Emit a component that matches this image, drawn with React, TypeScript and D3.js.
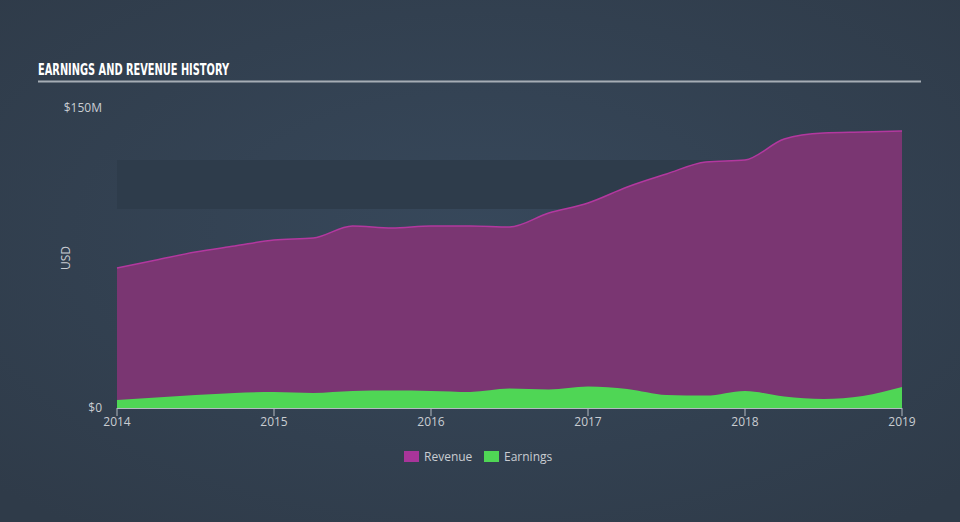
import React, { useEffect } from "react";
import * as d3 from "d3";

const dates: number[] = [
  2014.0, 2014.25, 2014.5, 2014.75, 2015.0, 2015.25, 2015.5, 2015.75, 2016.0, 2016.25, 2016.5,
  2016.75, 2017.0, 2017.25, 2017.5, 2017.75, 2018.0, 2018.25, 2018.5, 2018.75, 2019.0,
];
const revenue: number[] = [
  70, 74, 78, 81, 84, 85, 91, 90, 91, 91, 90.5, 97.5, 102.5, 110.5, 117, 123, 124, 134.5, 137.5, 138, 138.5,
];
const earnings: number[] = [
  4, 5.2, 6.5, 7.5, 8, 7.5, 8.5, 8.7, 8.5, 8, 9.7, 9.2, 10.7, 9.5, 6.5, 6.2, 8.5, 5.7, 4.5, 6, 10.5,
];
const xTicks: number[] = [2014, 2015, 2016, 2017, 2018, 2019];
const yTicks: number[] = [0, 150];
const yTickLabels: string[] = ["$0", "$150M"];
const bandRange: number[] = [99.5, 124];
const legendItems: string[] = ["Revenue", "Earnings"];

const W = 960;
const H = 522;
const X0 = 117;
const X1 = 902;
const Y0 = 408;
const Y1 = 108;

const REV_FILL = "#7a3672";
const REV_LINE = "#b3389f";
const EARN_FILL = "#4fd655";
const TEXT = "#c9cdd2";
const FONT = "'Open Sans', 'DejaVu Sans', sans-serif";

export default function App() {
  useEffect(() => {
    document.body.style.margin = "0";
  }, []);

  const x = d3.scaleLinear().domain([2014, 2019]).range([X0, X1]);
  const y = d3.scaleLinear().domain([0, 150]).range([Y0, Y1]);

  const revData = dates.map((d, i) => ({ d, v: revenue[i] }));
  const earnData = dates.map((d, i) => ({ d, v: earnings[i] }));

  const revArea = d3
    .area<{ d: number; v: number }>()
    .x((p) => x(p.d))
    .y0(y(0))
    .y1((p) => y(p.v))
    .curve(d3.curveMonotoneX);
  const revLine = d3
    .line<{ d: number; v: number }>()
    .x((p) => x(p.d))
    .y((p) => y(p.v))
    .curve(d3.curveMonotoneX);
  const earnArea = d3
    .area<{ d: number; v: number }>()
    .x((p) => x(p.d))
    .y0(y(0))
    .y1((p) => y(p.v))
    .curve(d3.curveMonotoneX);

  return (
    <div style={{ position: "absolute", left: 0, top: 0 }}>
      <svg width={W} height={H} style={{ display: "block" }} fontFamily={FONT}>
        <defs>
          <radialGradient id="bg" cx="50%" cy="45%" r="70%">
            <stop offset="0%" stopColor="#37485b" />
            <stop offset="100%" stopColor="#2f3b49" />
          </radialGradient>
        </defs>
        <rect x={0} y={0} width={W} height={H} fill="url(#bg)" />

        <text
          x={38}
          y={75}
          fill="#ffffff"
          fontFamily="'DejaVu Sans Condensed', 'DejaVu Sans', sans-serif"
          fontWeight="bold"
          fontSize={16}
          textLength={191}
          lengthAdjust="spacingAndGlyphs"
        >
          EARNINGS AND REVENUE HISTORY
        </text>
        <line x1={38} x2={921} y1={81.5} y2={81.5} stroke="#a6adb5" strokeWidth={2} />

        <rect
          x={X0}
          y={y(bandRange[1])}
          width={X1 - X0}
          height={y(bandRange[0]) - y(bandRange[1])}
          fill="#2e3c4b"
        />

        <path d={revArea(revData) || ""} fill={REV_FILL} />
        <path d={revLine(revData) || ""} fill="none" stroke={REV_LINE} strokeWidth={1.5} />
        <path d={earnArea(earnData) || ""} fill={EARN_FILL} />

        <line x1={X0} x2={X1} y1={Y0 + 0.5} y2={Y0 + 0.5} stroke="#b4bac1" strokeWidth={1} />
        {xTicks.map((t) => (
          <g key={t}>
            <line x1={x(t)} x2={x(t)} y1={Y0} y2={Y0 + 8} stroke="#b4bac1" strokeWidth={1} />
            <text x={x(t)} y={426} fill={TEXT} fontSize={12} textAnchor="middle">
              {t}
            </text>
          </g>
        ))}

        {yTicks.map((t, i) => (
          <text key={t} x={102} y={y(t) + 4} fill={TEXT} fontSize={12} textAnchor="end">
            {yTickLabels[i]}
          </text>
        ))}
        <text
          transform={`translate(70,${y(75)}) rotate(-90)`}
          fill={TEXT}
          fontSize={12}
          textAnchor="middle"
        >
          USD
        </text>

        {legendItems.map((name, i) => {
          const lx = 404 + i * 80;
          return (
            <g key={name}>
              <rect x={lx} y={451} width={15} height={11} fill={i === 0 ? "#a8359a" : EARN_FILL} />
              <text x={lx + 20} y={461} fill={TEXT} fontSize={12}>
                {name}
              </text>
            </g>
          );
        })}
      </svg>
    </div>
  );
}
